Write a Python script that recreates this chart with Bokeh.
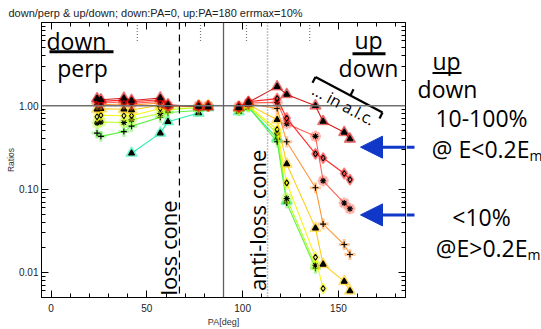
import math
from bokeh.plotting import figure
from bokeh.layouts import row
from bokeh.models import (FixedTicker, PrintfTickFormatter, LinearAxis, LogAxis,
                          Span, Label, Arrow, NormalHead, ColumnDataSource, Range1d,
                          CustomJSTickFormatter, Title)
from bokeh.core.properties import value
from bokeh.embed import file_html
from bokeh.resources import INLINE

NAN = float("nan")

title_text = "down/perp & up/down; down:PA=0, up:PA=180 errmax=10%"
x_ticks = [0, 50, 100, 150]
x_minor_ticks = [-10, 10, 20, 30, 40, 60, 70, 80, 90, 110, 120, 130, 140, 160, 170, 180]
y_ticks = [0.01, 0.1, 1.0]
y_minor_ticks = [0.005, 0.006, 0.007, 0.008, 0.009, 0.02, 0.03, 0.04, 0.05, 0.06, 0.07,
                 0.08, 0.09, 0.2, 0.3, 0.4, 0.5, 0.6, 0.7, 0.8, 0.9, 2, 3, 4, 5, 6, 7, 8, 9]

# pitch angles of the measurements
pa_down = [24, 26, 38, 42, 57, 61, 77, 82]
pa_up = [98, 103, 118, 123, 138, 142, 153, 156]

# down/perp ratios (9 energy channels, low -> high)
down_1 = [1.22, 1.18, 1.23, 1.16, 1.24, 1.03, 0.98, 0.97]
down_2 = [1.16, 1.13, 1.17, 1.12, 1.18, 1.01, 0.99, 0.99]
down_3 = [1.10, 1.08, 1.11, 1.07, 1.13, 1.00, 1.00, 1.00]
down_4 = [1.04, 1.03, 1.05, 1.02, 1.08, 0.99, 1.00, 1.00]
down_5 = [0.91, 0.92, 0.91, 0.89, 1.02, 0.99, 1.00, 1.00]
down_6 = [0.74, 0.77, 0.76, 0.76, 0.93, 0.97, 0.98, 1.00]
down_7 = [0.62, 0.64, 0.63, 0.68, 0.81, 0.90, 0.95, 0.99]
down_8 = [0.47, 0.43, 0.49, 0.57, 0.73, 0.83, 0.88, 0.98]
down_9 = [NAN, NAN, NAN, 0.27, 0.47, 0.645, 0.82, 0.95]

# up/down ratios
up_1 = [0.95, 1.10, 1.70, 1.37, 1.00, 0.65, 0.48, 0.40]
up_2 = [0.97, 1.12, 1.22, 0.71, 0.265, 0.236, 0.154, 0.130]
up_3 = [0.98, 1.08, 1.10, 0.61, 0.43, 0.126, 0.068, 0.058]
up_4 = [1.00, 1.06, 0.93, 0.37, 0.104, 0.038, 0.0216, 0.0164]
up_5 = [0.95, 1.03, 0.68, 0.20, 0.034, 0.0125, 0.0078, 0.0060]
up_6 = [0.92, 1.00, 0.52, 0.119, 0.0152, 0.0064, NAN, NAN]
up_7 = [0.90, 0.99, 0.47, 0.077, 0.0122, NAN, NAN, NAN]
up_8 = [0.88, 0.97, 0.37, 0.068, 0.0112, NAN, NAN, NAN]
up_9 = [0.85, 0.95, 0.41, 0.072, NAN, NAN, NAN, NAN]

down_series = [down_1, down_2, down_3, down_4, down_5, down_6, down_7, down_8, down_9]
up_series = [up_1, up_2, up_3, up_4, up_5, up_6, up_7, up_8, up_9]

colors = ["#d00000", "#ff1010", "#ff5040", "#ff8a20", "#ffc800",
          "#f4f400", "#b0ff10", "#50f030", "#10f0a0"]
markers = ["triangle", "diamond", "asterisk", "cross", "triangle",
           "diamond", "asterisk", "cross", "triangle"]

loss_cone_pa = 67
anti_loss_cone_pa = 113
perp_pa = 90
unity_ratio = 1.0
top_marks_pa = [45, 78, 102, 135]

X0, X1 = -5, 185
Y0, Y1 = 0.005, 10.0
# page-pixel frame used only to place annotations
FL, FR, FT, FB = 41, 405, 22, 300
MAIN_W = 406
BASE_SHIFT = 0.32  # alphabetic baseline correction (fraction of font size)


def ax(px):
    return X0 + (px - FL) / (FR - FL) * (X1 - X0)


def ay(py):
    l0, l1 = math.log10(Y0), math.log10(Y1)
    return 10 ** (l1 - (py - FT) / (FB - FT) * (l1 - l0))


p = figure(width=MAIN_W, height=329, x_range=Range1d(X0, X1), y_range=Range1d(Y0, Y1),
           y_axis_type="log", output_backend="svg", toolbar_location=None,
           min_border_left=41, min_border_right=1, min_border_top=22,
           min_border_bottom=29)
p.grid.visible = False
p.outline_line_color = "black"
p.outline_line_width = 1
p.background_fill_color = "white"
p.border_fill_color = "white"

p.title = Title(text=title_text, align="left", offset=-33, text_font="Liberation Sans",
                text_font_size="11px", text_font_style="normal", text_color="#222222",
                standoff=8)

xt = FixedTicker(ticks=x_ticks, minor_ticks=x_minor_ticks)
yt = FixedTicker(ticks=y_ticks, minor_ticks=y_minor_ticks)
blank = CustomJSTickFormatter(code="return ''")


def style_axis(a, show_labels):
    a.major_tick_in = 7
    a.major_tick_out = 0
    a.minor_tick_in = 4
    a.minor_tick_out = 0
    a.axis_line_color = "black"
    a.major_tick_line_color = "black"
    a.minor_tick_line_color = "black"
    a.major_label_text_font = "Liberation Sans"
    a.major_label_text_color = "#222222"
    a.major_label_text_font_size = "10px"
    a.major_label_standoff = 4
    if not show_labels:
        a.formatter = blank
        a.major_label_standoff = 0


xa = p.xaxis[0]
xa.ticker = xt
style_axis(xa, True)
xa.major_label_standoff = 6
xa.axis_label = "PA[deg]"
xa.axis_label_text_font = "Liberation Sans"
xa.axis_label_text_font_style = "normal"
xa.axis_label_text_font_size = "9px"
xa.axis_label_text_color = "#333333"
xa.axis_label_standoff = 2

ya = p.yaxis[0]
ya.ticker = yt
ya.formatter = PrintfTickFormatter(format="%.2f")
style_axis(ya, True)
ya.major_label_standoff = 3
ya.axis_label = "Ratios"
ya.axis_label_text_font = "Liberation Sans"
ya.axis_label_text_font_style = "normal"
ya.axis_label_text_font_size = "8.5px"
ya.axis_label_text_color = "#333333"
ya.axis_label_standoff = 0

top_axis = LinearAxis(ticker=xt)
style_axis(top_axis, False)
p.add_layout(top_axis, "above")
right_axis = LogAxis(ticker=yt)
style_axis(right_axis, False)
p.add_layout(right_axis, "right")

# reference lines
p.add_layout(Span(location=unity_ratio, dimension="width", line_color="#707070", line_width=1.5))
p.add_layout(Span(location=perp_pa, dimension="height", line_color="#606060", line_width=1.3))
p.add_layout(Span(location=loss_cone_pa, dimension="height", line_color="black",
                  line_width=1.2, line_dash="7 5"))
p.add_layout(Span(location=anti_loss_cone_pa, dimension="height", line_color="#888888",
                  line_width=1.5, line_dash="1 2"))
p.segment(x0=top_marks_pa, y0=[6.0] * len(top_marks_pa), x1=top_marks_pa,
          y1=[Y1] * len(top_marks_pa), line_color="#777777", line_width=1.2, line_dash="1 2")

# data series
for group_pa, group in ((pa_down, down_series), (pa_up, up_series)):
    for i in reversed(range(len(group))):
        src = ColumnDataSource(dict(x=group_pa, y=group[i]))
        c, m = colors[i], markers[i]
        p.line("x", "y", source=src, line_color=c, line_width=1.1, line_alpha=0.9)
        thick = 3 if m in ("asterisk", "cross") else 1.5
        p.scatter("x", "y", source=src, marker=m, size=11, fill_color=c, fill_alpha=0.4,
                  line_color=c, line_alpha=0.45, line_width=thick)
        fill = "black" if m == "triangle" else None
        p.scatter("x", "y", source=src, marker=m, size=6, fill_color=fill,
                  line_color="black", line_width=1.1)

BIG = "Open Sans"


def lab(text, px, py, size_px, align="left", baseline="alphabetic", angle=0.0,
        color="black", font=BIG):
    if baseline == "alphabetic":
        py = py - BASE_SHIFT * size_px
    p.add_layout(Label(x=ax(px), y=ay(py), text=text, text_font=font,
                       text_font_size=f"{size_px}px", text_align=align,
                       text_baseline=baseline, angle=angle, text_color=color))


def seg(x0, y0, x1, y1, w=2.5, color="black"):
    p.line([ax(x0), ax(x1)], [ay(y0), ay(y1)], line_color=color, line_width=w)


# panel labels
lab("down", 46, 48, 23)
seg(49, 51.5, 113, 51.5, w=3)
lab("perp", 82, 75, 23, align="center")
lab("up", 368, 47, 23, align="center")
seg(352, 53.5, 385, 53.5, w=3)
lab("down", 368, 75, 23, align="center")

# in a.l.c. bracket
seg(315, 77, 382, 113, w=2.2)
seg(315, 77, 312, 83, w=2.2)
seg(382, 113, 379, 119, w=2.2)
seg(350, 95.8, 353, 89.5, w=2.2)
lab("... in a.l.c.", 343, 105, 16, align="center", baseline="middle",
    angle=-math.atan2(36, 67))

lab("loss cone", 167, 250, 22, align="center", baseline="middle", angle=math.pi / 2)
lab("anti-loss cone", 256, 222, 22, align="center", baseline="middle", angle=math.pi / 2)

ARROW_BLUE = "#1038c8"
arrow_rows = [148, 216.5]
for py in arrow_rows:
    p.add_layout(Arrow(end=NormalHead(size=22, fill_color=ARROW_BLUE, line_color=ARROW_BLUE),
                       x_start=ax(414), y_start=ay(py), x_end=ax(360), y_end=ay(py),
                       line_color=ARROW_BLUE, line_width=3))

# right-hand notes panel: its frame is aligned with the main frame by the row layout,
# so its y range is expressed in page pixels of that frame (y downward)
NW = 541 - MAIN_W
q = figure(title=None, width=NW, height=329, x_range=Range1d(0, NW),
           y_range=Range1d(FB, FT),
           output_backend="svg", toolbar_location=None, min_border=0,
           min_border_left=0, min_border_right=0,
           x_axis_location=None, y_axis_location=None)
q.grid.visible = False
q.outline_line_color = None
q.background_fill_color = "white"
q.border_fill_color = "white"


def note(text, px, py, size_px, align="left"):
    q.text(x=[px - MAIN_W], y=[py - BASE_SHIFT * size_px], text=[text],
           text_font=value(BIG), text_font_size=value(f"{size_px}px"),
           text_align=align, text_baseline="alphabetic", text_color="black")


note("up", 446, 68, 23, align="center")
q.segment(x0=[432 - MAIN_W], y0=[73], x1=[461 - MAIN_W], y1=[73],
          line_color="black", line_width=2)
note("down", 447, 97, 23, align="center")
note("10-100%", 481, 126, 23, align="center")
note("@ E<0.2E", 529, 157, 23, align="right")
note("m", 529, 161, 14)
note("<10%", 481, 226, 23, align="center")
note("@E>0.2E", 527, 257, 23, align="right")
note("m", 527, 261, 14)
q.segment(x0=[0] * len(arrow_rows), y0=arrow_rows, x1=[414 - MAIN_W] * len(arrow_rows),
          y1=arrow_rows, line_color=ARROW_BLUE, line_width=3)

layout = row(p, q, spacing=0)
open("out.html", "w").write(file_html(layout, INLINE))
